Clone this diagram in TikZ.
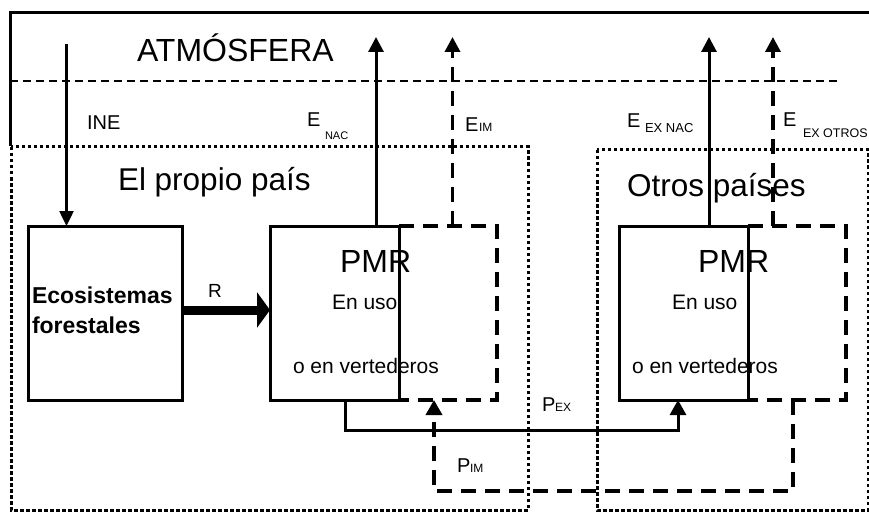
\documentclass[tikz,border=0pt]{standalone}
\usepackage{fontspec}
\setmainfont{Liberation Sans}
\usetikzlibrary{arrows.meta}
\begin{document}
\begin{tikzpicture}[x=1pt,y=-1pt,
  fs/.style={font=\fontsize{#1}{#1}\selectfont},
  lbl/.style={inner sep=0pt, outer sep=0pt, anchor=base west},
  boxs/.style={draw, line width=3pt, fill=white, inner sep=0pt, outer sep=0pt},
  arr/.style={line width=3pt, -{Triangle[width=15pt,length=15pt]}},
  dsh/.style={line width=3.5pt, dash pattern=on 15pt off 9pt},
  darr/.style={dsh, -{Triangle[width=15pt,length=15pt]}},
  dotbox/.style={line width=3pt, dash pattern=on 3.5pt off 2.5pt},
]
\useasboundingbox (0,0) rectangle (869,513);
\clip (0,0) rectangle (869,513);
% frame and atmosphere limit
\draw[line width=3pt] (10,146) -- (10,13) -- (880,13);
\draw[line width=1.5pt, dash pattern=on 8pt off 5pt] (10,81) -- (840,81);
% country boxes
\draw[dotbox] (11,147) rectangle (528,510);
\draw[dotbox] (597,150) rectangle (868,510);
% dashed PMR boxes
\draw[dsh] (399,226) -- (497,226) -- (497,400) -- (399,400);
\draw[dsh] (748,226) -- (846,226) -- (846,400) -- (748,400);
% solid boxes
\node[boxs, minimum width=154pt, minimum height=174pt] (eco) at (105,313) {};
\node[boxs, minimum width=129pt, minimum height=174pt] (pmrL) at (334.5,313) {};
\node[boxs, minimum width=129pt, minimum height=174pt] (pmrR) at (683.5,313) {};
% coordinates
\coordinate (ineTop) at (66.5,44);
\coordinate (nacTop) at (376,37);
\coordinate (imTop) at (452.5,37);
\coordinate (exnTop) at (709,37);
\coordinate (exoTop) at (773,37);
\coordinate (rline) at (0,310);
\coordinate (pexL) at (345,430);
\coordinate (pexR) at (678,430);
\coordinate (pimR) at (793,491);
\coordinate (pimL) at (434,491);
% arrows
\draw[line width=2.5pt, -{Triangle[width=14pt,length=15pt]}] (ineTop) -- (ineTop |- eco.north);
\draw[arr] (nacTop |- pmrL.north) -- (nacTop);
\draw[darr] (imTop |- pmrL.north) -- (imTop);
\draw[arr] (exnTop |- pmrR.north) -- (exnTop);
\draw[darr] (exoTop |- pmrR.north) -- (exoTop);
\draw[line width=9pt, -{Triangle[width=35pt,length=13pt]}] (eco.east |- rline) -- (pmrL.west |- rline);
\draw[line width=3pt, -{Triangle[width=16pt,length=15pt]}] (pexL |- pmrL.south) -- (pexL) -- (pexR) -- (pexR |- pmrR.south);
\draw[dsh, -{Triangle[width=16pt,length=15pt]}] (pimR |- pmrR.south) -- (pimR) -- (pimL) -- (pimL |- pmrL.south);
% texts
\node[lbl, fs=32] (atm) at (137,62) {ATMÓSFERA};
\node[lbl, fs=31.5] (pais) at (118,190) {El propio país};
\node[lbl, fs=31.5] (otros) at (627,196) {Otros países};
\node[lbl, fs=20] (ine) at (87,130) {INE};
\node[lbl, fs=20] (enac) at (307,127) {E};
\node[lbl, fs=11] (enacs) at (325,140) {NAC};
\node[lbl, fs=20] (eim) at (465,132) {E};
\node[lbl, fs=12] (eims) at (479,132) {IM};
\node[lbl, fs=20] (eexn) at (627,128) {E};
\node[lbl, fs=13] (eexns) at (645,133) {EX NAC};
\node[lbl, fs=20] (eexo) at (783,127) {E};
\node[lbl, fs=12.5] (eexos) at (803,138) {EX OTROS};
\node[lbl, font=\fontsize{23}{23}\selectfont\bfseries] (eco1) at (32,303) {Ecosistemas};
\node[lbl, font=\fontsize{23}{23}\selectfont\bfseries] (eco2) at (32,333) {forestales};
\node[lbl, fs=19] (rlab) at (208,297) {R};
\node[lbl, fs=32] (pmr1) at (340,272) {PMR};
\node[lbl, fs=21] (uso1) at (332,309) {En uso};
\node[lbl, fs=21] (ver1) at (293,373) {o en vertederos};
\node[lbl, fs=32] (pmr2) at (698,272) {PMR};
\node[lbl, fs=21] (uso2) at (672,309) {En uso};
\node[lbl, fs=21] (ver2) at (632,373) {o en vertederos};
\node[lbl, fs=20] (pex) at (542,411) {P};
\node[lbl, fs=12] (pexs) at (555,411) {EX};
\node[lbl, fs=20] (pim) at (457,472) {P};
\node[lbl, fs=12] (pims) at (470,472) {IM};
\end{tikzpicture}
\end{document}
